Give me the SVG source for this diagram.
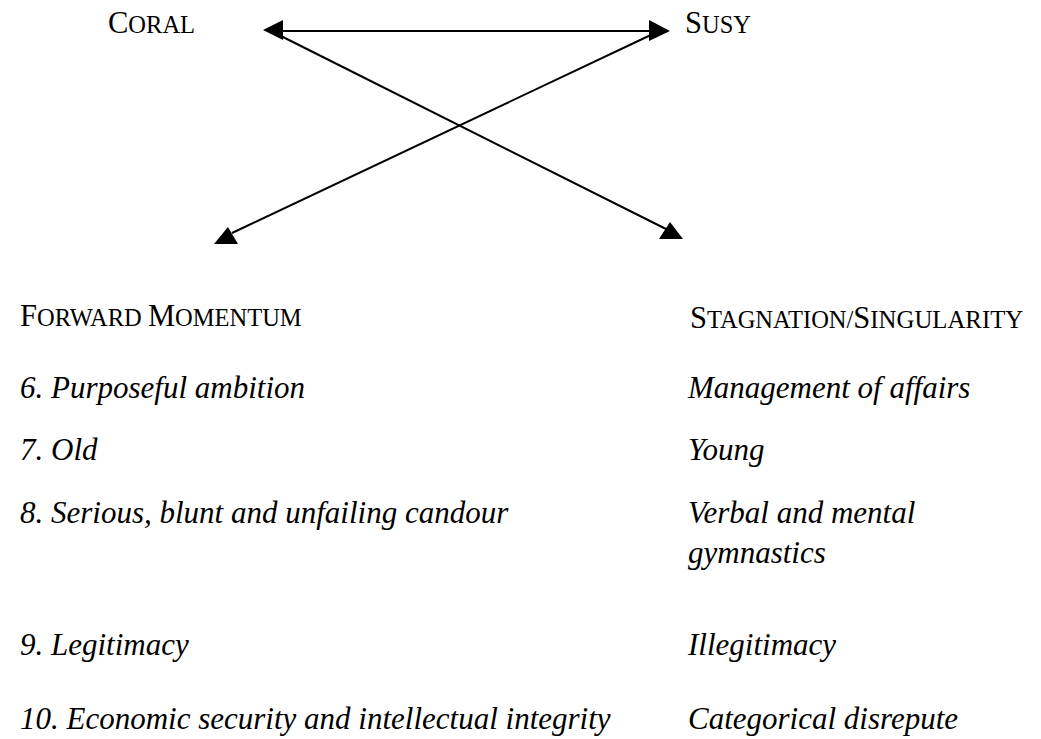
<svg xmlns="http://www.w3.org/2000/svg" width="1041" height="739" viewBox="0 0 1041 739">
<style>
.t{font-family:"Liberation Serif","Times New Roman",serif;fill:#000}
.sc{font-size:30.5px}
.sm{font-size:24.5px}
.it{font-size:31px;font-style:italic}
.ln{stroke:#000;stroke-width:2;fill:none}
.ah{fill:#000}
</style>
<rect width="1041" height="739" fill="#fff"/>
<g id="connectors">
<line class="ln" x1="270" y1="31" x2="662" y2="31"/>
<line class="ln" x1="275" y1="33" x2="666" y2="229"/>
<line class="ln" x1="655" y1="33" x2="232" y2="233"/>
<polygon class="ah" points="263,30 283,20 283,40"/>
<polygon class="ah" points="670,31 649,20 649,41"/>
<polygon class="ah" points="228,227 214,244 238,244"/>
<polygon class="ah" points="670,222 659,239 683,239"/>
</g>
<g id="coral"><text class="t sc" x="108" y="33">C<tspan class="sm">ORAL</tspan></text></g>
<g id="susy"><text class="t sc" x="685" y="33">S<tspan class="sm">USY</tspan></text></g>
<g id="left-column">
<text class="t sc" x="20" y="326">F<tspan class="sm">ORWARD </tspan>M<tspan class="sm">OMENTUM</tspan></text>
<text class="t it" x="20" y="398">6. Purposeful ambition</text>
<text class="t it" x="20" y="460">7. Old</text>
<text class="t it" x="20" y="523">8. Serious, blunt and unfailing candour</text>
<text class="t it" x="20" y="655">9. Legitimacy</text>
<text class="t it" x="20" y="729">10. Economic security and intellectual integrity</text>
</g>
<g id="right-column">
<text class="t sc" x="690" y="328">S<tspan class="sm">TAGNATION/</tspan>S<tspan style="font-size:24.8px">INGULARITY</tspan></text>
<text class="t it" x="688" y="398">Management of affairs</text>
<text class="t it" x="688" y="460">Young</text>
<text class="t it" x="688" y="523">Verbal and mental</text>
<text class="t it" x="688" y="563">gymnastics</text>
<text class="t it" x="688" y="655">Illegitimacy</text>
<text class="t it" x="688" y="729">Categorical disrepute</text>
</g>
</svg>
